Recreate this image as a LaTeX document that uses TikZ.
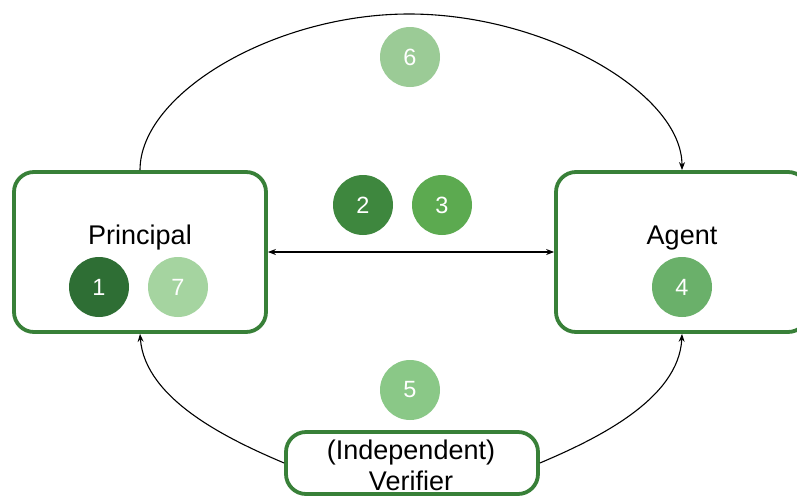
\documentclass[tikz,border=0pt]{standalone}
\usepackage{fontspec}
\setmainfont{Liberation Sans}
\usetikzlibrary{arrows.meta}

\definecolor{boxgreen}{RGB}{56,128,56}
\definecolor{stepA}{RGB}{46,110,52}
\definecolor{stepB}{RGB}{62,135,62}
\definecolor{stepC}{RGB}{92,170,80}
\definecolor{stepD}{RGB}{106,176,106}
\definecolor{stepE}{RGB}{138,200,135}
\definecolor{stepF}{RGB}{155,203,150}
\definecolor{stepG}{RGB}{165,212,160}

\tikzset{
  party/.style={draw=boxgreen, line width=3.8pt, rounded corners=20pt,
    fill=white, minimum width=252pt, minimum height=160pt, inner sep=0pt},
  partyname/.style={font=\fontsize{27}{31}\selectfont, text=black, inner sep=0pt},
  badge/.style={circle, minimum size=60pt, inner sep=0pt, draw=none,
    font=\fontsize{23.5}{27}\selectfont, text=white},
  conn/.style={draw=black, line width=1.1pt, -{Stealth[length=8pt,width=6pt]}},
  twoway/.style={draw=black, line width=1.1pt,
    {Stealth[length=8pt,width=6pt]}-{Stealth[length=8pt,width=6pt]}}
}

\begin{document}
\begin{tikzpicture}[x=1pt,y=-1pt]
  \useasboundingbox (0,0) rectangle (797,496);
  \clip (0,0) rectangle (797,496);
  \fill[white] (0,0) rectangle (797,496);

  % the three parties
  \node[party] (principal) at (140,252) {};
  \node[party] (agent) at (682,252) {};
  \node[party, minimum height=62pt] (verifier) at (412,463) {};

  \node[partyname] (principalname) at (140,238) {Principal};
  \node[partyname] (agentname) at (682,238) {Agent};
  \node[partyname, align=center] (verifiername) at (411,465)
    {(Independent)\\Verifier};

  % numbered steps
  \node[badge, fill=stepA] (s1) at (99,287) {1};
  \node[badge, fill=stepG] (s7) at (178,287) {7};
  \node[badge, fill=stepB] (s2) at (363,205) {2};
  \node[badge, fill=stepC] (s3) at (442,205) {3};
  \node[badge, fill=stepD] (s4) at (682,287) {4};
  \node[badge, fill=stepF] (s6) at (410,57) {6};
  \node[badge, fill=stepE] (s5) at (410,390) {5};

  % connectors
  \draw[conn] (principal.north) .. controls (140,93) and (275,14) .. (409,14)
    .. controls (545,14) and (682,93) .. (agent.north);
  \draw[twoway] (principal.east) -- (agent.west);
  \draw[conn] (verifier.west) .. controls (230,440) and (145,400) .. (principal.south);
  \draw[conn] (verifier.east) .. controls (594,440) and (679,400) .. (agent.south);
\end{tikzpicture}
\end{document}
